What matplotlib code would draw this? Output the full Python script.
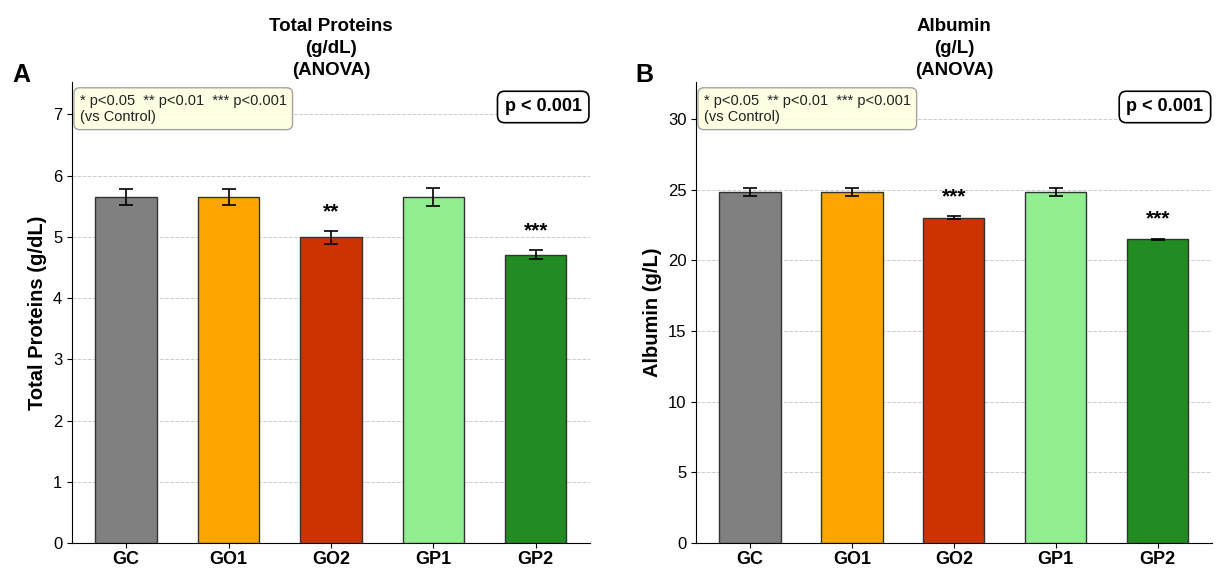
import matplotlib
matplotlib.use("Agg")
import matplotlib.pyplot as plt
import numpy as np

plt.rcParams['font.family'] = ['Liberation Sans', 'DejaVu Sans']

groups = ["GC", "GO1", "GO2", "GP1", "GP2"]
colors = ["#808080", "#FFA500", "#CC3300", "#90EE90", "#228B22"]

tp_means = [5.65, 5.65, 4.99, 5.65, 4.71]
tp_errs = [0.13, 0.13, 0.10, 0.14, 0.07]
tp_sig = ["", "", "**", "", "***"]

alb_means = [24.85, 24.85, 23.02, 24.85, 21.50]
alb_errs = [0.25, 0.25, 0.10, 0.25, 0.05]
alb_sig = ["", "", "***", "", "***"]

fig = plt.figure(figsize=(12.19, 5.74), dpi=100)
ax1 = fig.add_axes([0.059, 0.054, 0.425, 0.803])
ax2 = fig.add_axes([0.571, 0.054, 0.423, 0.803])

def panel(ax, means, errs, sig, title, ylabel, letter, letter_x):
    x = np.arange(len(groups))
    ax.bar(x, means, width=0.6, color=colors, edgecolor="#333333", linewidth=1.0, zorder=3)
    ax.errorbar(x, means, yerr=errs, fmt="none", ecolor="black", capsize=5,
                elinewidth=1.2, capthick=1.2, zorder=4)
    top = max(m + e for m, e in zip(means, errs)) * 1.3
    ax.set_ylim(0, top)
    for xi, m, e, s in zip(x, means, errs, sig):
        if s:
            ax.text(xi, m + e + top * 0.022, s, ha="center", va="bottom",
                    fontsize=15, fontweight="bold", zorder=5)
    ax.set_xticks(x)
    ax.set_xticklabels(groups, fontsize=13, fontweight="bold")
    ax.tick_params(axis="y", labelsize=12)
    ax.tick_params(axis="x", pad=2)
    ax.set_ylabel(ylabel, fontsize=14.5, fontweight="bold")
    ax.set_title(title, fontsize=13.5, fontweight="bold", pad=5, linespacing=1.4)
    ax.spines["top"].set_visible(False)
    ax.spines["right"].set_visible(False)
    ax.yaxis.grid(True, linestyle="--", color="#cccccc", linewidth=0.7, zorder=0)
    ax.set_axisbelow(True)
    ax.text(0.015, 0.975, "* p<0.05  ** p<0.01  *** p<0.001\n(vs Control)",
            transform=ax.transAxes, ha="left", va="top", fontsize=10.5, color="#222222",
            bbox=dict(boxstyle="round,pad=0.4", facecolor="#FFFFE0", edgecolor="#999999", alpha=0.9),
            zorder=6)
    ax.text(0.984, 0.946, "p < 0.001", transform=ax.transAxes, ha="right", va="center",
            fontsize=13, fontweight="bold",
            bbox=dict(boxstyle="round,pad=0.4", facecolor="white", edgecolor="black", linewidth=1.2),
            zorder=6)
    fig.text(letter_x, 0.869, letter, fontsize=18, fontweight="bold",
             ha="left", va="center")

panel(ax1, tp_means, tp_errs, tp_sig, "Total Proteins\n(g/dL)\n(ANOVA)",
      "Total Proteins (g/dL)", "A", 0.010)
panel(ax2, alb_means, alb_errs, alb_sig, "Albumin\n(g/L)\n(ANOVA)",
      "Albumin (g/L)", "B", 0.521)

fig.savefig("out.png", dpi=100)
